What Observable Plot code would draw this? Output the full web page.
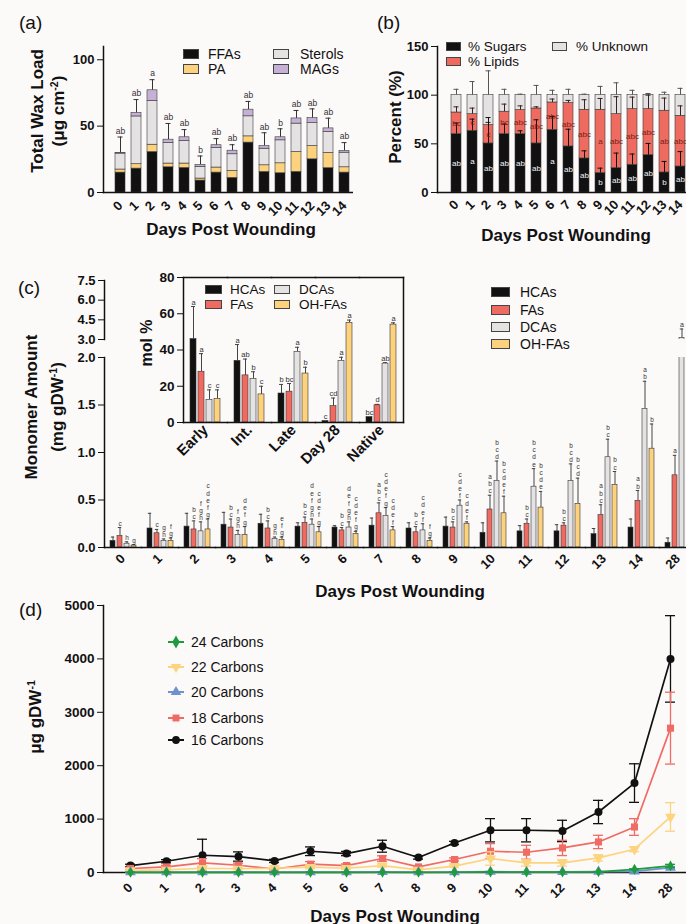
<!DOCTYPE html>
<html>
<head>
<meta charset="utf-8">
<script src="https://cdn.jsdelivr.net/npm/d3@7"></script>
<script src="https://cdn.jsdelivr.net/npm/@observablehq/plot@0.6"></script>
<style>
html,body{margin:0;padding:0;background:#fcf9f9;}
#fig{position:relative;width:686px;height:924px;overflow:hidden;background:#fcf9f9;font-family:"Liberation Sans",Arial,sans-serif;color:#111;}
.t{position:absolute;white-space:nowrap;line-height:1;}
.pl{font-size:19px;}
.yt{font-weight:bold;font-size:17px;transform:translate(-50%,-50%) rotate(-90deg);}
.xt{font-weight:bold;font-size:17px;transform:translate(-50%,-50%);}
.lg{position:absolute;display:flex;align-items:center;font-size:14px;line-height:1;white-space:nowrap;height:14px;transform:translateY(-50%);}
.sw{display:inline-block;box-sizing:border-box;border:1px solid #444;}
sup{font-size:0.62em;vertical-align:0.55em;line-height:0;}
</style>
</head>
<body>
<div id="fig"></div>
<script>
// ---------------- DATA ----------------
// Panel (a): total wax load (µg cm-2), stacked components
const daysA = ["0","1","2","3","4","5","6","7","8","9","10","11","12","13","14"];
const waxComponents = ["FFAs","PA","Sterols","MAGs"];
const waxColors = ["#111111","#fdd27e","#e4e2e2","#c6b1d6"];
const ffas    = [15,18,30.5,19,18.5,9,15,11,37.6,15.5,14.5,15.5,25,18.3,15];
const pa      = [2.3,3.3,5.5,2.8,3.3,1.5,3.8,5.2,4.7,5,7.5,15,10,11.5,4];
const sterols = [12,36,33,15.5,17,8.8,14.7,12.6,15.1,12.5,17.3,21.4,17.3,15.8,11];
const mags    = [0.4,2.6,8,2.5,2.8,1.5,2.1,2.7,5,2,2.3,3.9,3.7,2.7,1.3];
const waxErrTop = [41.8,70,85,52,47.4,27.5,40.6,36,68.6,45,48,61.8,63,56,37.6];
const waxLetters = ["ab","ab","a","ab","ab","b","ab","ab","ab","ab","b","ab","ab","ab","ab"];

// Panel (b): percent composition
const pctParts = ["% Sugars","% Lipids","% Unknown"];
const pctColors = ["#111111","#ef6b5f","#e4e2e2"];
const sugars  = [60,63.4,50.4,60,60,50.4,64.4,47.3,35,20,25,28.5,38.4,20.6,26.7];
const lipids  = [22.2,17.1,18.9,23,24.7,35.9,28.1,44.6,50,65,55.5,57.2,47.3,63.4,52.1];
const unknown = [17.8,19.5,30.7,17,15.3,13.7,7.5,8.1,15,15,19.5,14.3,14.3,16,21.2];
const sugarErrTop   = [71.3,75.4,77,70.3,63.4,74.7,78,65,42.8,25,40.5,39.5,50.4,31.9,42];
const lipidErrTop   = [88,86.7,72,90.8,89,88,96,94.6,95.3,96.6,98.4,98,100,97,89];
const unknownErrTop = [106,114,125,106,101,110,105,106,101,109,112.7,105,101.7,103,107];
const sugarLetters = ["ab","a","ab","ab","ab","ab","a","ab","ab","b","ab","ab","ab","b","ab"];
const lipidLetters = ["bc","c","c","bc","abc","abc","abc","abc","abc","a","abc","abc","abc","ab","abc"];

// Panel (c): monomer amount (mg gDW-1)
const daysD = ["0","1","2","3","4","5","6","7","8","9","10","11","12","13","14","28"];
const monoSeries = ["HCAs","FAs","DCAs","OH-FAs"];
const monoColors = ["#111111","#ef6b61","#e4e2e2","#fdd27e"];
const hcas   = [0.07,0.20,0.22,0.24,0.25,0.22,0.21,0.23,0.20,0.22,0.155,0.17,0.17,0.14,0.21,0.05];
const hcasE  = [0.11,0.36,0.36,0.37,0.35,0.26,0.23,0.31,0.26,0.32,0.26,0.23,0.24,0.20,0.30,0.10];
const fas    = [0.12,0.15,0.19,0.21,0.20,0.26,0.18,0.36,0.16,0.21,0.40,0.25,0.23,0.34,0.49,0.76];
const fasE   = [0.21,0.19,0.28,0.30,0.28,0.32,0.21,0.47,0.22,0.27,0.55,0.30,0.26,0.45,0.60,0.97];
const dcas   = [0.04,0.07,0.17,0.13,0.09,0.24,0.21,0.33,0.18,0.44,0.70,0.64,0.70,0.95,1.46,3.1];
const dcasE  = [0.06,0.09,0.27,0.18,0.11,0.30,0.27,0.42,0.25,0.50,0.91,0.83,0.88,1.14,1.75,3.8];
const ohfas  = [0.02,0.07,0.19,0.13,0.08,0.16,0.14,0.18,0.07,0.25,0.36,0.42,0.46,0.66,1.04,null];
const ohfasE = [0.03,0.10,0.30,0.22,0.11,0.22,0.17,0.22,0.10,0.27,0.54,0.59,0.73,0.80,1.30,null];
const hcasL  = ["","","","","","","","","","","","","","","",""];
const fasL   = ["c","c","bc","bc","bc","bc","bc","abc","bc","bc","abc","bc","bc","abc","ab","a"];
const dcasL  = ["h","gh","fgh","fgh","gh","defgh","defgh","cdefg","cdef","cdef","bcd","bcde","bcd","bc","ab","a"];
const ohfasL = ["g","fg","cdefg","defg","efg","cdefg","cdefg","cdef","fg","cdef","bcdef","bcde","bcd","bc","b",""];

// Panel (c) inset: mol %
const insetGroups = ["Early","Int.","Late","Day 28","Native"];
const inHcas  = [46,34,16,0.8,3];     const inHcasE  = [64,43,21,null,null];
const inFas   = [28,26,17,9,9.5];     const inFasE   = [38,35,21.5,13.5,10];
const inDcas  = [12.5,24,39,34,32.5]; const inDcasE  = [18,28,41.5,36,33];
const inOhfas = [13,15.5,27,55,54];   const inOhfasE = [18,20,30.5,56.5,55];
const inHcasL = ["a","a","b","c","bc"];
const inFasL  = ["a","ab","bc","cd","d"];
const inDcasL = ["c","b","a","a","ab"];
const inOhfasL= ["c","c","b","a","a"];

// Panel (d): µg gDW-1 by chain length
const carbonSeries = ["24 Carbons","22 Carbons","20 Carbons","18 Carbons","16 Carbons"];
const carbonColors = ["#1f9a3c","#fdd47e","#6d93cf","#f06b63","#111111"];
const c24 = [2,3,4,3,3,4,3,5,3,5,10,8,8,12,60,123];
const c24sd = [1,1,1,1,1,1,1,1,1,1,3,3,3,3,10,30];
const c22 = [40,50,80,70,80,100,80,130,50,118,262,180,180,273,436,1040];
const c22sd = [10,15,30,20,15,30,20,30,15,20,125,60,60,60,45,268];
const c20 = [5,5,8,6,5,8,6,10,5,8,15,12,12,15,20,90];
const c20sd = [2,2,3,2,2,3,2,4,2,3,5,4,4,5,8,20];
const c18 = [75,105,180,136,65,155,130,262,105,243,398,379,460,572,852,2703];
const c18sd = [20,30,80,40,15,50,30,50,20,30,143,130,143,125,156,673];
const c16 = [130,211,323,299,217,398,355,492,280,553,791,791,778,1133,1675,4000];
const c16sd = [25,30,300,87,30,81,40,112,30,30,218,218,200,218,361,810];

// ---------------- HELPERS ----------------
const fig = document.getElementById("fig");
function mount(svg, left, top, w, h, clip) {
  const d = document.createElement("div");
  d.style.cssText = `position:absolute;left:${left}px;top:${top}px;width:${w}px;height:${h}px;${clip ? "overflow:hidden;" : ""}`;
  d.appendChild(svg); fig.appendChild(d);
}
function label(html, cls, x, y, extra) {
  const d = document.createElement("div");
  d.className = "t " + cls; d.innerHTML = html;
  d.style.left = x + "px"; d.style.top = y + "px";
  if (extra) d.style.cssText += extra;
  fig.appendChild(d);
}
function swatch(x, y, color, text, w, h, gap, fs) {
  const d = document.createElement("div");
  d.className = "lg"; d.style.left = x + "px"; d.style.top = y + "px";
  if (fs) d.style.fontSize = fs + "px";
  d.innerHTML = `<span class="sw" style="width:${w}px;height:${h}px;background:${color};margin-right:${gap}px"></span><span>${text}</span>`;
  fig.appendChild(d);
}
function lineKey(x, y, color, symType, rot, text) {
  const d = document.createElement("div");
  d.className = "lg"; d.style.left = x + "px"; d.style.top = y + "px";
  const p = d3.symbol(symType, 48)();
  d.innerHTML = `<svg width="16" height="12" style="margin-right:7px;overflow:visible"><line x1="0" x2="16" y1="6" y2="6" stroke="${color}" stroke-width="2"/><path d="${p}" transform="translate(8,6) rotate(${rot})" fill="${color}"/></svg><span>${text}</span>`;
  fig.appendChild(d);
}
const baseStyle = {fontFamily: '"Liberation Sans", Arial, sans-serif', fontSize: "13px", fontWeight: "bold",
  background: "transparent", color: "#111", overflow: "visible", maxWidth: "none"};
const stack = s => s ? s.split("").join("\n") : "";
function safe(fn) { try { fn(); } catch (e) { console.error(e); } }

// ---------------- PANEL (a) ----------------
safe(() => {
const waxRows = daysA.flatMap((d, i) => [ffas, pa, sterols, mags].map((arr, k) => ({day: d, comp: waxComponents[k], v: arr[i]})));
const waxTops = daysA.map((d, i) => ({day: d, top: ffas[i] + pa[i] + sterols[i] + mags[i], err: waxErrTop[i], lab: waxLetters[i]}));
mount(Plot.plot({
  width: 361, height: 250, marginLeft: 103, marginRight: 0, marginTop: 46, marginBottom: 58,
  style: baseStyle,
  x: {domain: daysA, padding: 0.35},
  y: {domain: [0, 110]},
  color: {domain: waxComponents, range: waxColors},
  marks: [
    Plot.ruleX(waxTops, {x: "day", y1: "top", y2: "err", stroke: "#333"}),
    Plot.tickY(waxTops, {x: "day", y: "err", stroke: "#333", insetLeft: 2.5, insetRight: 2.5}),
    Plot.barY(waxRows, {x: "day", y: "v", fill: "comp", stroke: "#3a3a3a", strokeWidth: 0.6}),
    Plot.text(waxTops, {x: "day", y: "err", text: "lab", dy: -6, fontSize: 8.5, fontWeight: "normal", fill: "#333"}),
    Plot.axisY({ticks: [0, 50, 100], label: null, tickSize: 6, tickPadding: 3}),
    Plot.axisX({label: null, tickRotate: -45, tickSize: 0, tickPadding: 11}),
    Plot.frame({anchor: "left", strokeWidth: 1.5}),
    Plot.frame({anchor: "bottom", strokeWidth: 1.5})
  ]
}), 0, 0, 353, 250, true);
});

// ---------------- PANEL (b) ----------------
safe(() => {
const pctRows = daysA.flatMap((d, i) => [sugars, lipids, unknown].map((arr, k) => ({day: d, part: pctParts[k], v: arr[i]})));
const pctInfo = daysA.map((d, i) => ({day: d, s: sugars[i], sl: sugars[i] + lipids[i], all: sugars[i] + lipids[i] + unknown[i],
  se: sugarErrTop[i], le: lipidErrTop[i], ue: unknownErrTop[i], sL: sugarLetters[i], lL: lipidLetters[i]}));
mount(Plot.plot({
  width: 359, height: 250, marginLeft: 97, marginRight: 0, marginTop: 46, marginBottom: 58,
  style: baseStyle,
  x: {domain: daysA, paddingInner: 0.36, paddingOuter: 0.44},
  y: {domain: [0, 150]},
  color: {domain: pctParts, range: pctColors},
  marks: [
    Plot.ruleX(pctInfo, {x: "day", y1: "all", y2: "ue", stroke: "#555"}),
    Plot.tickY(pctInfo, {x: "day", y: "ue", stroke: "#555", insetLeft: 2.5, insetRight: 2.5}),
    Plot.barY(pctRows, {x: "day", y: "v", fill: "part", stroke: "#3a3a3a", strokeWidth: 0.6}),
    Plot.ruleX(pctInfo, {x: "day", y1: "sl", y2: "le", stroke: "#3a2020"}),
    Plot.tickY(pctInfo, {x: "day", y: "le", stroke: "#3a2020", insetLeft: 2.5, insetRight: 2.5}),
    Plot.ruleX(pctInfo, {x: "day", y1: "s", y2: "se", stroke: "#111"}),
    Plot.tickY(pctInfo, {x: "day", y: "se", stroke: "#111", insetLeft: 2.5, insetRight: 2.5}),
    Plot.text(pctInfo, {x: "day", y: d => d.s / 2, text: "sL", fontSize: 8, fontWeight: "normal", fill: "#f4f4f4"}),
    Plot.text(pctInfo, {x: "day", y: d => d.s + (d.sl - d.s) / 2, text: "lL", fontSize: 8, fontWeight: "normal", fill: "#7a1e18"}),
    Plot.axisY({ticks: [0, 50, 100, 150], label: null, tickSize: 6, tickPadding: 3}),
    Plot.axisX({label: null, tickRotate: -45, tickSize: 0, tickPadding: 10}),
    Plot.frame({anchor: "left", strokeWidth: 1.5}),
    Plot.frame({anchor: "bottom", strokeWidth: 1.5})
  ]
}), 340, 0, 359, 250, false);
});

// ---------------- PANEL (c) main ----------------
const monoVals = [hcas, fas, dcas, ohfas], monoErr = [hcasE, fasE, dcasE, ohfasE], monoLet = [hcasL, fasL, dcasL, ohfasL];
const monoRows = daysD.flatMap((d, i) => monoSeries.map((s, k) => ({day: d, s, v: monoVals[k][i], e: monoErr[k][i], lab: monoLet[k][i]})))
  .filter(r => r.v != null);
const upper = monoRows.filter(r => r.v > 3);
const facetX = {domain: monoSeries, paddingInner: 0.3, paddingOuter: 0.478, axis: null};

safe(() => {
mount(Plot.plot({
  width: 698, height: 260, marginLeft: 102, marginRight: 0, marginTop: 17, marginBottom: 53,
  style: baseStyle,
  fx: {domain: daysD, padding: 0, label: null},
  x: facetX,
  y: {domain: [0, 2]},
  color: {domain: monoSeries, range: monoColors},
  marks: [
    Plot.ruleX(monoRows, {fx: "day", x: "s", y1: "v", y2: "e", stroke: "#444", clip: true}),
    Plot.tickY(monoRows, {fx: "day", x: "s", y: "e", stroke: "#444", insetLeft: 0.8, insetRight: 0.8, clip: true}),
    Plot.barY(monoRows, {fx: "day", x: "s", y: "v", fill: "s", stroke: "#333", strokeWidth: 0.6, clip: true}),
    Plot.text(monoRows.filter(r => r.lab && r.e <= 2), {fx: "day", x: "s", y: "e", text: r => stack(r.lab), lineAnchor: "bottom",
      dy: -2, fontSize: 6.4, lineHeight: 1.12, fontWeight: "normal", fill: "#333"}),
    Plot.axisY({ticks: [0, 0.5, 1, 1.5, 2], tickFormat: ".1f", label: null, tickSize: 6, tickPadding: 3}),
    Plot.axisFx({anchor: "bottom", label: null, tickRotate: -45, tickSize: 0, tickPadding: 9}),
    Plot.frame({anchor: "left", facetAnchor: "left", strokeWidth: 1.5}),
    Plot.frame({anchor: "bottom", strokeWidth: 1.5})
  ]
}), 0, 340, 698, 260, false);
});

safe(() => {
mount(Plot.plot({
  width: 698, height: 80, marginLeft: 102, marginRight: 0, marginTop: 10, marginBottom: 11,
  style: baseStyle,
  fx: {domain: daysD, padding: 0, axis: null, label: null},
  x: facetX,
  y: {domain: [3, 7.5]},
  color: {domain: monoSeries, range: monoColors},
  marks: [
    Plot.ruleX(monoRows, {fx: "day", x: "s", y1: "v", y2: "e", stroke: "#444", clip: true}),
    Plot.tickY(upper, {fx: "day", x: "s", y: "e", stroke: "#444", insetLeft: 0.8, insetRight: 0.8}),
    Plot.barY(monoRows, {fx: "day", x: "s", y: "v", fill: "s", stroke: "#333", strokeWidth: 0.6, clip: true}),
    Plot.text(upper, {fx: "day", x: "s", y: "e", text: r => stack(r.lab), lineAnchor: "bottom", dy: -2, fontSize: 7, fontWeight: "normal", fill: "#333"}),
    Plot.axisY({ticks: [3, 4.5, 6, 7.5], tickFormat: ".1f", label: null, tickSize: 6, tickPadding: 3}),
    Plot.frame({anchor: "left", facetAnchor: "left", strokeWidth: 1.5})
  ]
}), 0, 270, 698, 80, false);
});

// ---------------- PANEL (c) inset ----------------
safe(() => {
const inVals = [inHcas, inFas, inDcas, inOhfas], inErr = [inHcasE, inFasE, inDcasE, inOhfasE], inLet = [inHcasL, inFasL, inDcasL, inOhfasL];
const inRows = insetGroups.flatMap((g, i) => monoSeries.map((s, k) => ({g, s, v: inVals[k][i], e: inErr[k][i], lab: inLet[k][i]})));
const inErrRows = inRows.filter(r => r.e != null);
mount(Plot.plot({
  width: 404, height: 230, marginLeft: 182, marginRight: 0, marginTop: 17, marginBottom: 68,
  style: {...baseStyle, fontSize: "13.5px"},
  fx: {domain: insetGroups, padding: 0, label: null},
  x: {domain: monoSeries, paddingInner: 0.22, paddingOuter: 0.575, axis: null},
  y: {domain: [0, 80]},
  color: {domain: monoSeries, range: monoColors},
  marks: [
    Plot.ruleX(inErrRows, {fx: "g", x: "s", y1: "v", y2: "e", stroke: "#444"}),
    Plot.tickY(inErrRows, {fx: "g", x: "s", y: "e", stroke: "#444", insetLeft: 1, insetRight: 1}),
    Plot.barY(inRows, {fx: "g", x: "s", y: "v", fill: "s", stroke: "#333", strokeWidth: 0.6}),
    Plot.text(inRows, {fx: "g", x: "s", y: r => r.e ?? r.v, text: "lab", lineAnchor: "bottom", dy: -2, fontSize: 7.5, fontWeight: "normal", fill: "#333"}),
    Plot.axisY({ticks: [0, 20, 40, 60, 80], label: null, tickSize: 6, tickPadding: 3}),
    Plot.axisFx({anchor: "bottom", label: null, tickRotate: -45, tickSize: 0, tickPadding: 5, fontSize: 15}),
    Plot.frame({anchor: "left", facetAnchor: "left", strokeWidth: 1.5}),
    Plot.frame({anchor: "right", facetAnchor: "right", strokeWidth: 1.5}),
    Plot.frame({anchor: "top", strokeWidth: 1.5}),
    Plot.frame({anchor: "bottom", strokeWidth: 1.5})
  ]
}), 0, 260, 404, 230, false);
});

// ---------------- PANEL (d) ----------------
const carbonVals = [c24, c22, c20, c18, c16], carbonSd = [c24sd, c22sd, c20sd, c18sd, c16sd];
const carbonSyms = ["diamond", "triangle", "triangle", "square", "circle"];
const carbonSymFns = [d3.symbolDiamond, d3.symbolTriangle, d3.symbolTriangle, d3.symbolSquare, d3.symbolCircle];
const carbonRot = [0, 180, 0, 0, 0];
safe(() => {
const drawOrder = [4, 3, 1, 2, 0];
const dMarks = [Plot.frame({anchor: "left", strokeWidth: 1.5}), Plot.frame({anchor: "bottom", strokeWidth: 1.5})];
for (const k of drawOrder) {
  const rows = daysD.map((d, i) => ({day: d, s: carbonSeries[k], v: carbonVals[k][i], sd: carbonSd[k][i]}));
  dMarks.push(
    Plot.ruleX(rows, {x: "day", y1: r => r.v - r.sd, y2: r => r.v + r.sd, stroke: "s", strokeWidth: 1.3}),
    Plot.tickY(rows, {x: "day", y: r => r.v + r.sd, stroke: "s", strokeWidth: 1.3}),
    Plot.tickY(rows, {x: "day", y: r => r.v - r.sd, stroke: "s", strokeWidth: 1.3}),
    Plot.line(rows, {x: "day", y: "v", stroke: "s", strokeWidth: 1.7}),
    Plot.dot(rows, {x: "day", y: "v", fill: "s", symbol: carbonSyms[k], rotate: carbonRot[k], r: k === 0 ? 3.3 : 4})
  );
}
dMarks.push(
  Plot.axisY({ticks: [0, 1000, 2000, 3000, 4000, 5000], tickFormat: "d", label: null, tickSize: 6, tickPadding: 3, fontSize: 13.5}),
  Plot.axisX({label: null, tickRotate: -45, tickSize: 0, tickPadding: 13})
);
mount(Plot.plot({
  width: 696, height: 334, marginLeft: 103, marginRight: 0, marginTop: 15, marginBottom: 52,
  style: baseStyle,
  x: {type: "band", domain: daysD, paddingInner: 0.724, paddingOuter: 0.54},
  y: {domain: [0, 5000]},
  color: {domain: carbonSeries, range: carbonColors},
  marks: dMarks
}), 0, 590, 696, 334, false);
});

// ---------------- TEXT & LEGENDS ----------------
label("(a)", "pl", 19, 13);
label("(b)", "pl", 377, 13);
label("(c)", "pl", 18, 278);
label("(d)", "pl", 19, 600);

label("Total Wax Load", "yt", 37, 111);
label("(μg cm<sup>-2</sup>)", "yt", 58, 111);
label("Percent (%)", "yt", 395, 117);
label("Monomer Amount", "yt", 31, 407);
label("(mg gDW<sup>-1</sup>)", "yt", 57, 407);
label("mol %", "yt", 147, 343, "font-size:16px;");
label("μg gDW<sup>-1</sup>", "yt", 35, 717);

label("Days Post Wounding", "xt", 231, 229);
label("Days Post Wounding", "xt", 566, 235);
label("Days Post Wounding", "xt", 400, 591);
label("Days Post Wounding", "xt", 395, 916);

swatch(183, 53.5, waxColors[0], "FFAs", 16, 10, 9);
swatch(183, 68.5, waxColors[1], "PA", 16, 10, 9);
swatch(273, 53.5, waxColors[2], "Sterols", 16, 10, 11);
swatch(273, 68.5, waxColors[3], "MAGs", 16, 10, 11);

swatch(446, 46.5, pctColors[0], "% Sugars", 15, 9, 7, 13.5);
swatch(446, 61.5, pctColors[1], "% Lipids", 15, 9, 7, 13.5);
swatch(552, 46.5, pctColors[2], "% Unknown", 15, 9, 9, 13.5);

swatch(205, 289.5, monoColors[0], "HCAs", 17, 9, 8, 13.5);
swatch(205, 304.5, monoColors[1], "FAs", 17, 9, 8, 13.5);
swatch(274, 289.5, monoColors[2], "DCAs", 16, 9, 9, 13.5);
swatch(274, 304.5, monoColors[3], "OH-FAs", 16, 9, 9, 13.5);

swatch(491, 292, monoColors[0], "HCAs", 19, 10, 10);
swatch(491, 309.5, monoColors[1], "FAs", 19, 10, 10);
swatch(491, 327, monoColors[2], "DCAs", 19, 10, 10);
swatch(491, 343.5, monoColors[3], "OH-FAs", 19, 10, 10);

const keyY = [642, 667, 692, 718, 740];
carbonSeries.forEach((s, k) => lineKey(168, keyY[k], carbonColors[k], carbonSymFns[k], carbonRot[k], s));
</script>
</body>
</html>
